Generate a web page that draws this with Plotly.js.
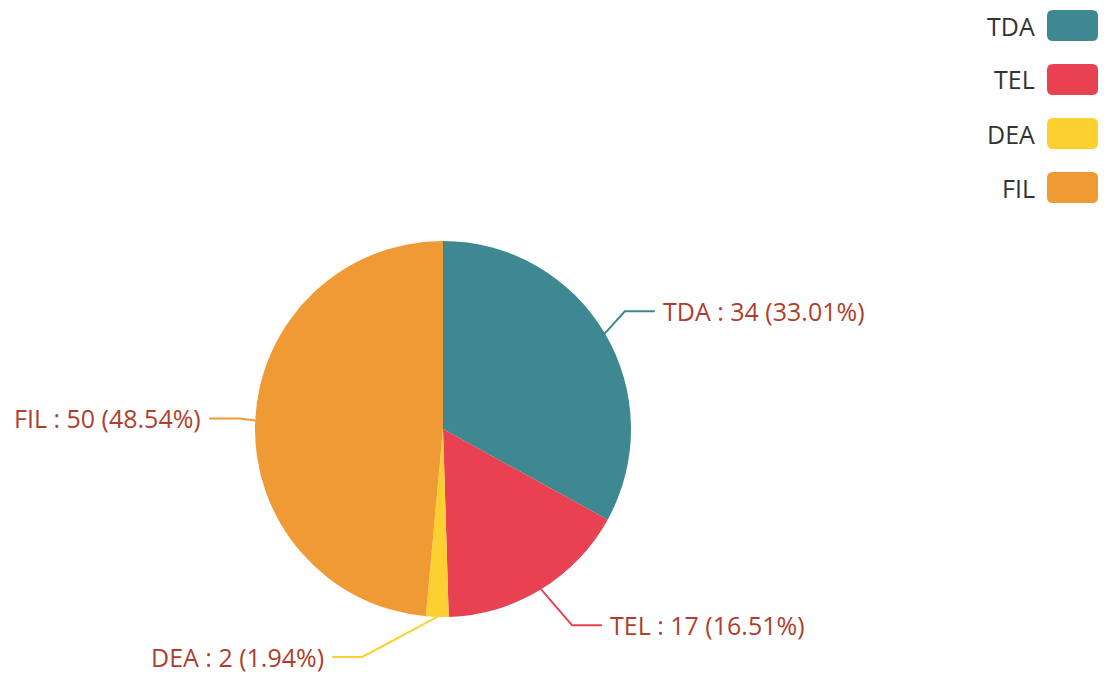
<!DOCTYPE html>
<html>
<head>
<meta charset="utf-8">
<script src="https://cdn.plot.ly/plotly-3.0.1.min.js"></script>
<style>html,body{margin:0;padding:0;background:#fff;}#chart{width:1107px;height:675px;}</style>
</head>
<body>
<div id="chart"></div>
<script>
// ---- data ----
const categories = ['TDA', 'TEL', 'DEA', 'FIL'];
const values = [34, 17, 2, 50];
const colors = ['#3d8891', '#e84152', '#fbd030', '#f09a35'];

// ---- layout config (pixels) ----
const W = 1107, H = 675;
const cx = 443, cy = 429, R = 188;
const elbowOffsets = [[20, -22], [31, 36], [-75, 40], [-16, -2]];
const hLen = 30, textGap = 6;
const labelColor = '#ad3f2e';
const FONT = 'Open Sans, Noto Sans, sans-serif';

const px = x => x / W;
const py = y => 1 - y / H;

const total = values.reduce((a, b) => a + b, 0);

// percentages with 2 decimals, largest-remainder so they sum to 100
function percents(vals, digits) {
  const scale = Math.pow(10, digits);
  const raw = vals.map(v => v / total * 100 * scale);
  const fl = raw.map(Math.floor);
  let rest = 100 * scale - fl.reduce((a, b) => a + b, 0);
  const order = raw.map((r, i) => [r - fl[i], i]).sort((a, b) => b[0] - a[0]);
  for (let k = 0; k < rest; k++) fl[order[k][1]] += 1;
  return fl.map(f => (f / scale).toFixed(digits));
}
const pcts = percents(values, 2);

const trace = {
  type: 'pie',
  labels: categories,
  values: values,
  marker: { colors: colors, line: { width: 0 } },
  sort: false,
  direction: 'clockwise',
  rotation: 0,
  textinfo: 'none',
  hoverinfo: 'label+value+percent',
  domain: { x: [px(cx - R), px(cx + R)], y: [py(cy + R), py(cy - R)] },
  showlegend: false
};

const shapes = [];
const annotations = [];
let cum = 0;
values.forEach((v, i) => {
  const theta = 2 * Math.PI * (cum + v / 2) / total;
  cum += v;
  const ex = cx + R * Math.sin(theta), ey = cy - R * Math.cos(theta);
  const bx = ex + elbowOffsets[i][0], by = ey + elbowOffsets[i][1];
  const right = bx > cx;
  const tx = right ? bx + hLen : bx - hLen;
  shapes.push({
    type: 'path', xref: 'paper', yref: 'paper',
    path: `M ${px(ex)} ${py(ey)} L ${px(bx)} ${py(by)} L ${px(tx)} ${py(by)}`,
    line: { color: colors[i], width: 2 }
  });
  annotations.push({
    xref: 'paper', yref: 'paper',
    x: px(right ? tx + textGap : tx - textGap), y: py(by),
    xanchor: right ? 'left' : 'right', yanchor: 'middle',
    text: `${categories[i]} : ${v} (${pcts[i]}%)`,
    showarrow: false,
    font: { family: FONT, size: 25, color: labelColor }
  });
});

// custom legend (text left of rounded swatch)
const legX0 = 1047, legX1 = 1098, legH = 31, legTop = 10, legStep = 54, rad = 6;
categories.forEach((c, i) => {
  const y0 = legTop + i * legStep, y1 = y0 + legH;
  const x0 = legX0, x1 = legX1;
  const p = [
    `M ${px(x0 + rad)} ${py(y0)}`,
    `L ${px(x1 - rad)} ${py(y0)}`,
    `Q ${px(x1)} ${py(y0)} ${px(x1)} ${py(y0 + rad)}`,
    `L ${px(x1)} ${py(y1 - rad)}`,
    `Q ${px(x1)} ${py(y1)} ${px(x1 - rad)} ${py(y1)}`,
    `L ${px(x0 + rad)} ${py(y1)}`,
    `Q ${px(x0)} ${py(y1)} ${px(x0)} ${py(y1 - rad)}`,
    `L ${px(x0)} ${py(y0 + rad)}`,
    `Q ${px(x0)} ${py(y0)} ${px(x0 + rad)} ${py(y0)} Z`
  ].join(' ');
  shapes.push({ type: 'path', xref: 'paper', yref: 'paper', path: p,
    fillcolor: colors[i], line: { width: 0 } });
  annotations.push({
    xref: 'paper', yref: 'paper',
    x: px(legX0 - 10), y: py((y0 + y1) / 2),
    xanchor: 'right', yanchor: 'middle',
    text: c, showarrow: false,
    font: { family: FONT, size: 25, color: '#333333' }
  });
});

const layout = {
  width: W, height: H,
  margin: { l: 0, r: 0, t: 0, b: 0 },
  paper_bgcolor: '#ffffff',
  showlegend: false,
  shapes: shapes,
  annotations: annotations
};

Plotly.newPlot('chart', [trace], layout, { displayModeBar: false, staticPlot: true });
</script>
</body>
</html>
